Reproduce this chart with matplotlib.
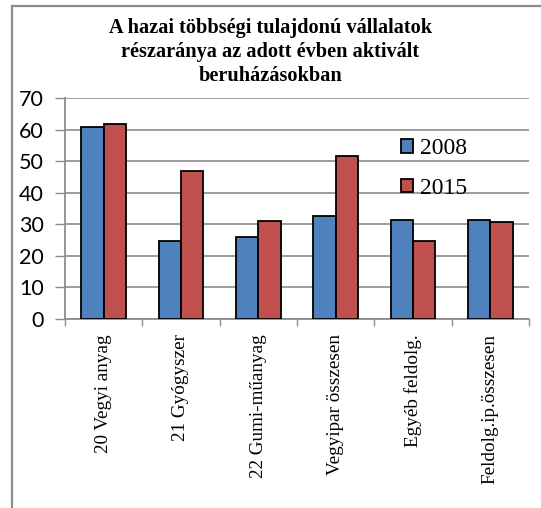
import matplotlib.pyplot as plt
import numpy as np
from matplotlib.patches import Rectangle

# share of domestically majority-owned firms in investments activated that year
categories = ["20 Vegyi anyag", "21 Gyógyszer", "22 Gumi-műanyag",
              "Vegyipar összesen", "Egyéb feldolg.", "Feldolg.ip.összesen"]
share_2008 = [60.8, 24.8, 26.0, 32.6, 31.4, 31.4]
share_2015 = [61.9, 46.8, 30.9, 51.7, 24.7, 30.8]
years = ["2008", "2015"]
yticks = [0, 10, 20, 30, 40, 50, 60, 70]

blue = "#4F81BD"
red = "#C0504D"
grey = "#8C8C8C"

fig = plt.figure(figsize=(5.41, 5.08), dpi=100)
ax = fig.add_axes([0.120, 0.372, 0.858, 0.435])

x = np.arange(len(categories))
w = 0.29
ax.bar(x - w/2, share_2008, w, color=blue, edgecolor="black", linewidth=1.3, label=years[0], zorder=3)
ax.bar(x + w/2, share_2015, w, color=red, edgecolor="black", linewidth=1.3, label=years[1], zorder=3)

ax.set_xlim(-0.5, len(categories) - 0.5)
ax.set_ylim(0, 70)
ax.set_yticks(yticks)
ax.set_yticklabels([str(v) for v in yticks], family="Lato", fontsize=15.5)
ax.yaxis.grid(True, color=grey, linewidth=1.2, zorder=0)
ax.tick_params(axis="y", length=7, width=1, color=grey, pad=8)

# category labels sit between boundary ticks
ax.set_xticks(x)
ax.set_xticklabels(categories, rotation=90, family="Liberation Serif", fontsize=13.8, va="top")
ax.tick_params(axis="x", length=0, pad=11)
ax.set_xticks(np.arange(len(categories) + 1) - 0.5, minor=True)
ax.tick_params(axis="x", which="minor", length=5, width=1, color=grey)

for s in ["top", "right"]:
    ax.spines[s].set_visible(False)
for s in ["left", "bottom"]:
    ax.spines[s].set_color(grey)
    ax.spines[s].set_linewidth(1.3)

ax.legend(loc="upper left", bbox_to_anchor=(0.742, 0.728), bbox_transform=fig.transFigure,
          frameon=False, prop={"family": "Liberation Serif", "size": 17},
          handlelength=0.5, handleheight=0.5, handletextpad=0.3, labelspacing=0.8,
          borderpad=0, borderaxespad=0)

fig.text(0.5, 0.964, "A hazai többségi tulajdonú vállalatok\nrészaránya az adott évben aktivált\nberuházásokban",
         ha="center", va="top", family="Liberation Serif", weight="bold", fontsize=14.6,
         linespacing=1.25)

# chart frame
fig.add_artist(Rectangle((12/541, -0.05), 1.1, 1.05 - 6/508, transform=fig.transFigure,
                         fill=False, edgecolor=grey, linewidth=1.6))

fig.savefig("out.png", dpi=100)
